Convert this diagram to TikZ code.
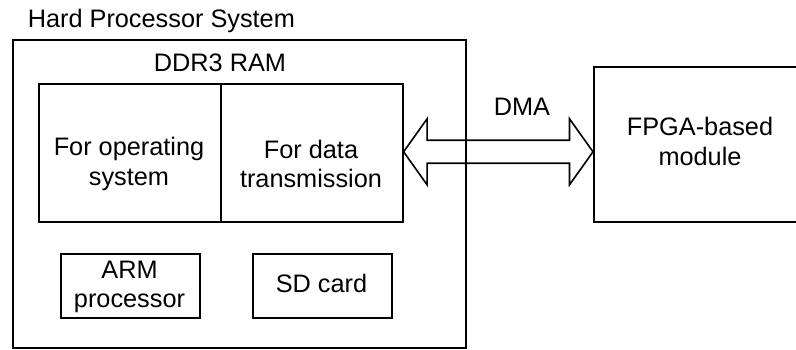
\documentclass[tikz,border=0pt]{standalone}
\usepackage{fontspec}
\setmainfont{Liberation Sans}
\usetikzlibrary{calc}
\begin{document}
\begin{tikzpicture}[x=1pt, y=-1pt, line width=1.6pt,
  box/.style={draw, rectangle, inner sep=0pt, anchor=north west},
  txt/.style={inner sep=0pt, align=center, font=\fontsize{25.3}{29.5}\selectfont}]
\clip (0,0) rectangle (796,350);
% frames
\node[box, minimum width=453pt, minimum height=308pt] (hps) at (12,39) {};
\node[box, minimum width=182pt, minimum height=138pt] (os) at (38,83) {};
\node[box, minimum width=182pt, minimum height=138pt] (dt) at (220,83) {};
\node[box, minimum width=139pt, minimum height=64pt] (arm) at (60,253) {};
\node[box, minimum width=139pt, minimum height=64pt] (sd) at (252,253) {};
\node[box, minimum width=220pt, minimum height=155pt] (fpga) at (593,66) {};
% labels
\node[txt, anchor=base west] (hpslbl) at (27,28) {Hard Processor System};
\node[txt, anchor=base] (ddrlbl) at (220,72) {DDR3 RAM};
\node[txt] (oslbl) at (129,164) {For operating\\system};
\node[txt] (dtlbl) at (311,164) {For data\\transmission};
\node[txt] (armlbl) at (129.5,287) {ARM\\processor};
\node[txt, anchor=base] (sdlbl) at (321.5,292) {SD card};
\node[txt] (fpgalbl) at (700,141.5) {FPGA-based\\module};
\node[txt, anchor=base] (dma) at (522,116) {DMA};
% DMA double arrow
\coordinate (tipL) at ([yshift=1pt]dt.east);
\coordinate (tipR) at (fpga.west |- tipL);
\draw (tipL) -- ($(tipL)+(23.5,-33)$) -- ($(tipL)+(23.5,-11.5)$)
  -- ($(tipR)+(-23.5,-11.5)$) -- ($(tipR)+(-23.5,-33)$) -- (tipR)
  -- ($(tipR)+(-23.5,33)$) -- ($(tipR)+(-23.5,11.5)$)
  -- ($(tipL)+(23.5,11.5)$) -- ($(tipL)+(23.5,33)$) -- cycle;
\end{tikzpicture}
\end{document}
